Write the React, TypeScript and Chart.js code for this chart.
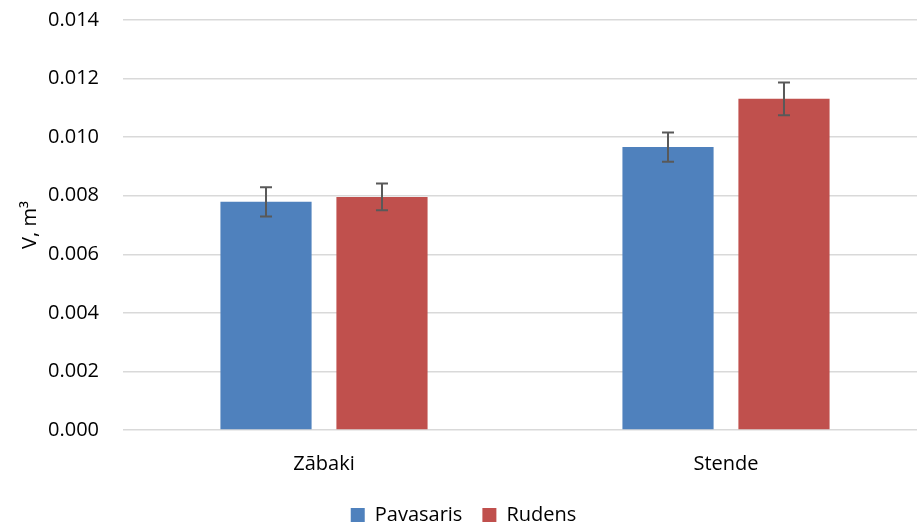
import React, { useEffect, useRef } from "react";
import { Chart, registerables } from "chart.js";
Chart.register(...registerables);

const categories = ["Zābaki", "Stende"];
const seriesNames = ["Pavasaris", "Rudens"];
const pavasaris = [0.00779, 0.00966];
const rudens = [0.00796, 0.01131];
const pavasarisErr = [0.0005, 0.0005];
const rudensErr = [0.00046, 0.00056];
const yTicks = [0, 0.002, 0.004, 0.006, 0.008, 0.01, 0.012, 0.014];

const FONT = "'Open Sans', 'Noto Sans', sans-serif";

const errorBarPlugin = {
  id: "errorBars",
  afterDatasetsDraw(chart: any) {
    const ctx = chart.ctx;
    const y = chart.scales.y;
    const errs = [pavasarisErr, rudensErr];
    chart.data.datasets.forEach((ds: any, di: number) => {
      const meta = chart.getDatasetMeta(di);
      meta.data.forEach((bar: any, i: number) => {
        const v = ds.data[i];
        const e = errs[di][i];
        const yTop = y.getPixelForValue(v + e);
        const yBot = y.getPixelForValue(v - e);
        const x = bar.x;
        ctx.save();
        ctx.strokeStyle = "#595959";
        ctx.lineWidth = 2;
        ctx.beginPath();
        ctx.moveTo(x, yTop);
        ctx.lineTo(x, yBot);
        ctx.moveTo(x - 6, yTop);
        ctx.lineTo(x + 6, yTop);
        ctx.moveTo(x - 6, yBot);
        ctx.lineTo(x + 6, yBot);
        ctx.stroke();
        ctx.restore();
      });
    });
  },
};

export default function App() {
  const ref = useRef<HTMLCanvasElement>(null);
  useEffect(() => {
    const chart = new Chart(ref.current!, {
      type: "bar",
      data: {
        labels: categories,
        datasets: [
          { label: seriesNames[0], data: pavasaris, backgroundColor: "#4F81BD", borderWidth: 0 },
          { label: seriesNames[1], data: rudens, backgroundColor: "#C0504D", borderWidth: 0 },
        ],
      },
      options: {
        animation: false,
        responsive: false,
        maintainAspectRatio: false,
        layout: { padding: { top: -5, left: 0, right: 0, bottom: 0 } },
        datasets: { bar: { categoryPercentage: 0.577, barPercentage: 0.786 } } as any,
        scales: {
          x: {
            grid: { display: false, drawTicks: false },
            border: { display: false },
            ticks: { color: "#000", font: { family: FONT, size: 20 }, padding: 22 },
            afterFit(axis: any) {
              axis.height -= 13;
            },
          },
          y: {
            min: 0,
            max: 0.014,
            afterBuildTicks(axis: any) {
              axis.ticks = yTicks.map((v) => ({ value: v }));
            },
            afterFit(axis: any) {
              axis.width = 123;
            },
            grid: { color: "#D9D9D9", lineWidth: 1.5, drawTicks: false },
            border: { display: false },
            ticks: {
              color: "#000",
              font: { family: FONT, size: 20 },
              padding: 24,
              callback: (v: any) => Number(v).toFixed(3),
            },
            title: {
              display: true,
              text: "V, m³",
              color: "#000",
              font: { family: FONT, size: 20 },
              padding: { top: 18, bottom: 0 },
            },
          },
        },
        plugins: {
          legend: {
            position: "bottom",
            labels: {
              color: "#000",
              font: { family: FONT, size: 20 },
              boxWidth: 14,
              boxHeight: 14,
              padding: 20,
            },
          },
          tooltip: { enabled: false },
        },
      },
      plugins: [errorBarPlugin],
    });
    return () => chart.destroy();
  }, []);
  return (
    <div style={{ position: "fixed", left: 0, top: 0, width: 917, height: 525, overflow: "hidden", background: "#fff" }}>
      <canvas ref={ref} width={927} height={551} style={{ display: "block", position: "absolute", left: 0, top: -16 }} />
    </div>
  );
}
